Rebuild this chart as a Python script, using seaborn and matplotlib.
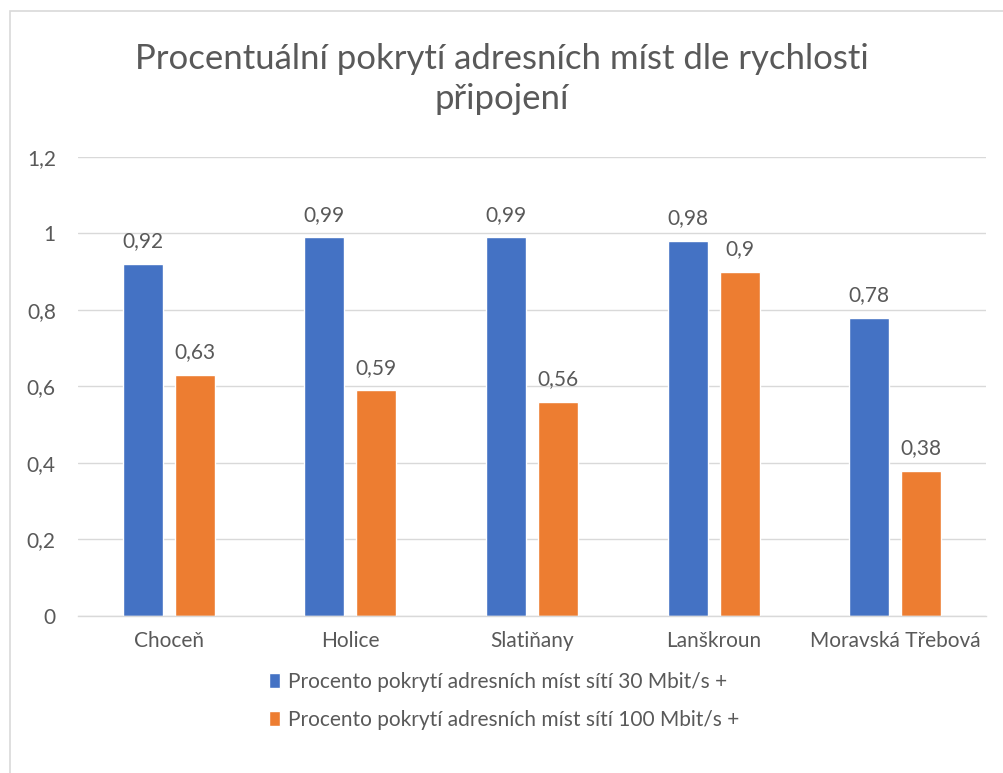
import matplotlib
matplotlib.use("Agg")
import matplotlib.pyplot as plt
import matplotlib.patches as mpatches
import seaborn as sns
import pandas as pd

# Data
towns = ["Choceň", "Holice", "Slatiňany", "Lanškroun", "Moravská Třebová"]
speed_30 = [0.92, 0.99, 0.99, 0.98, 0.78]
speed_100 = [0.63, 0.59, 0.56, 0.90, 0.38]
series_names = [
    "Procento pokrytí adresních míst sítí 30 Mbit/s +",
    "Procento pokrytí adresních míst sítí 100 Mbit/s +",
]
y_ticks = [0, 0.2, 0.4, 0.6, 0.8, 1.0, 1.2]
title = "Procentuální pokrytí adresních míst dle rychlosti\npřipojení"

def fmt(v):
    s = f"{v:.2f}".rstrip("0").rstrip(".")
    return s.replace(".", ",")

df = pd.DataFrame({
    "town": towns * 2,
    "value": speed_30 + speed_100,
    "series": [series_names[0]] * len(towns) + [series_names[1]] * len(towns),
})

sns.set_theme(style="white")
plt.rcParams["font.family"] = ["Lato", "DejaVu Sans"]
text_color = "#595959"
colors = ["#4472C4", "#ED7D31"]
fs = 15

fig = plt.figure(figsize=(10.04, 7.73), dpi=100)
ax = fig.add_axes([0.0777, 0.2031, 0.9043, 0.5939])

sns.barplot(data=df, x="town", y="value", hue="series", order=towns,
            hue_order=series_names, palette=colors, width=0.573, gap=0.232,
            saturation=1, legend=True, ax=ax, errorbar=None)

ax.set_xlim(-0.5, len(towns) - 0.5)
ax.set_ylim(0, 1.2)
ax.set_yticks(y_ticks)
ax.set_yticklabels([fmt(t) for t in y_ticks])
ax.yaxis.grid(True, color="#D9D9D9", linewidth=1)
ax.set_axisbelow(True)
for s in ["left", "right", "top"]:
    ax.spines[s].set_visible(False)
ax.spines["bottom"].set_color("#D9D9D9")
ax.spines["bottom"].set_linewidth(1)
ax.set_xlabel("")
ax.set_ylabel("")
ax.tick_params(axis="both", length=0, colors=text_color, labelsize=fs)
ax.tick_params(axis="x", pad=11)
ax.tick_params(axis="y", pad=16)

for cont in ax.containers:
    labels = [fmt(b.get_height()) for b in cont]
    ax.bar_label(cont, labels=labels, padding=9, color=text_color, fontsize=fs)

handles, labs = ax.get_legend_handles_labels()
ax.legend_.remove()
fig.legend(handles, labs, loc="upper center", bbox_to_anchor=(0.502, 0.155),
           ncol=1, frameon=False, fontsize=fs, labelcolor=text_color,
           handlelength=0.55, handleheight=0.7, handletextpad=0.35,
           labelspacing=0.85)

fig.text(0.5, 0.898, title, ha="center", va="center", fontsize=25,
         color=text_color, linespacing=1.3)

# Chart area border
fig.patches.append(mpatches.Rectangle((10 / 1004, -0.05), 1.2, (773 - 11) / 773 + 0.05,
                                      transform=fig.transFigure, fill=False,
                                      edgecolor="#D9D9D9", linewidth=1.2))

fig.savefig("out.png", dpi=100)
